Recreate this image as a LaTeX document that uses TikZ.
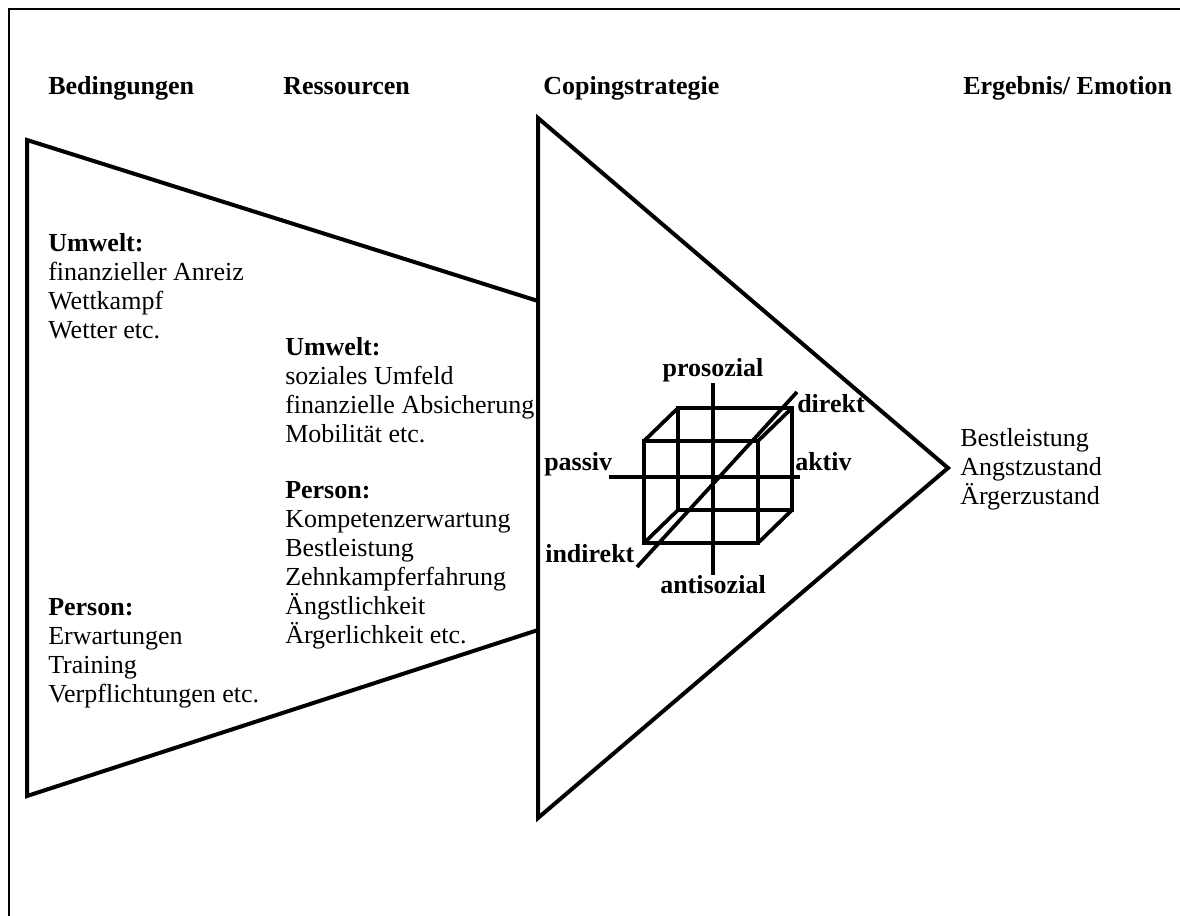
\documentclass[tikz,border=0pt]{standalone}
\usepackage{fontspec}
\setmainfont{Liberation Serif}
\usetikzlibrary{positioning}

\begin{document}
\begin{tikzpicture}[x=0.75pt, y=-0.75pt, line join=miter,
    heading/.style={font=\fontsize{19.5}{21.75}\selectfont\bfseries, anchor=base west, inner sep=0pt},
    textblock/.style={font=\fontsize{19.5}{21.75}\selectfont, anchor=base west, align=left, inner sep=0pt},
    axislabel/.style={font=\fontsize{19.5}{21.75}\selectfont\bfseries, inner sep=0pt},
    outline/.style={line width=3pt},
    cubeline/.style={line width=2.8pt}]
    \useasboundingbox (0,0) rectangle (1180,916);
    % Frame
    \draw[line width=2pt] (9,916) -- (9,9) -- (1180,9);

    % Column headings
    \node[heading] (hbed) at (48,95) {Bedingungen};
    \node[heading] (hres) at (283,95) {Ressourcen};
    \node[heading] (hcop) at (543,95) {Copingstrategie};
    \node[heading] (herg) at (963,95) {Ergebnis/ Emotion};

    % Triangle (Copingstrategie)
    \coordinate (ttop) at (538,118);
    \coordinate (tbot) at (538,818);
    \coordinate (tapex) at (948,468);
    \draw[outline] (ttop) -- (tapex) -- (tbot) -- cycle;

    % Funnel (Bedingungen / Ressourcen)
    \coordinate (ftl) at (27,140);
    \coordinate (fbl) at (27,796);
    \coordinate (ftr) at (538,301);
    \coordinate (fbr) at (538,630);
    \draw[outline] (ftr) -- (ftl) -- (fbl) -- (fbr);

    % Bedingungen (base = last line)
    \node[textblock] (bumw) at (48,338) {\textbf{Umwelt:}\\finanzieller Anreiz\\Wettkampf\\Wetter etc.};
    \node[textblock] (bper) at (48,702) {\textbf{Person:}\\Erwartungen\\Training\\Verpflichtungen etc.};

    % Ressourcen
    \node[textblock] (rumw) at (285,442) {\textbf{Umwelt:}\\soziales Umfeld\\finanzielle Absicherung\\Mobilität etc.};
    \node[textblock] (rper) at (285,643) {\textbf{Person:}\\Kompetenzerwartung\\Bestleistung\\Zehnkampferfahrung\\Ängstlichkeit\\Ärgerlichkeit etc.};

    % Ergebnis
    \node[textblock] (erg) at (960,504) {Bestleistung\\Angstzustand\\Ärgerzustand};

    % Cube
    \draw[cubeline] (644,441) rectangle (758,543);
    \draw[cubeline] (678,408) rectangle (792,510);
    \draw[cubeline] (644,441) -- (678,408);
    \draw[cubeline] (758,441) -- (792,408);
    \draw[cubeline] (644,543) -- (678,510);
    \draw[cubeline] (758,543) -- (792,510);

    % Axes
    \coordinate (ptop) at (713,383);
    \coordinate (pbot) at (713,575);
    \coordinate (pleft) at (609,477);
    \coordinate (pright) at (800,477);
    \coordinate (dlow) at (637,567);
    \coordinate (dhigh) at (797,392);
    \draw[cubeline] (ptop) -- (pbot);
    \draw[cubeline] (pleft) -- (pright);
    \draw[cubeline] (dlow) -- (dhigh);

    \node[axislabel, anchor=base] (lpro) at (713,376) {prosozial};
    \node[axislabel, anchor=base] (lanti) at (713,593) {antisozial};
    \node[axislabel, anchor=base west] (lpas) at (544,470) {passiv};
    \node[axislabel, anchor=base west] (lakt) at (795,470) {aktiv};
    \node[axislabel, anchor=base west] (ldir) at (797,412) {direkt};
    \node[axislabel, anchor=base west] (lind) at (545,562) {indirekt};
\end{tikzpicture}
\end{document}
